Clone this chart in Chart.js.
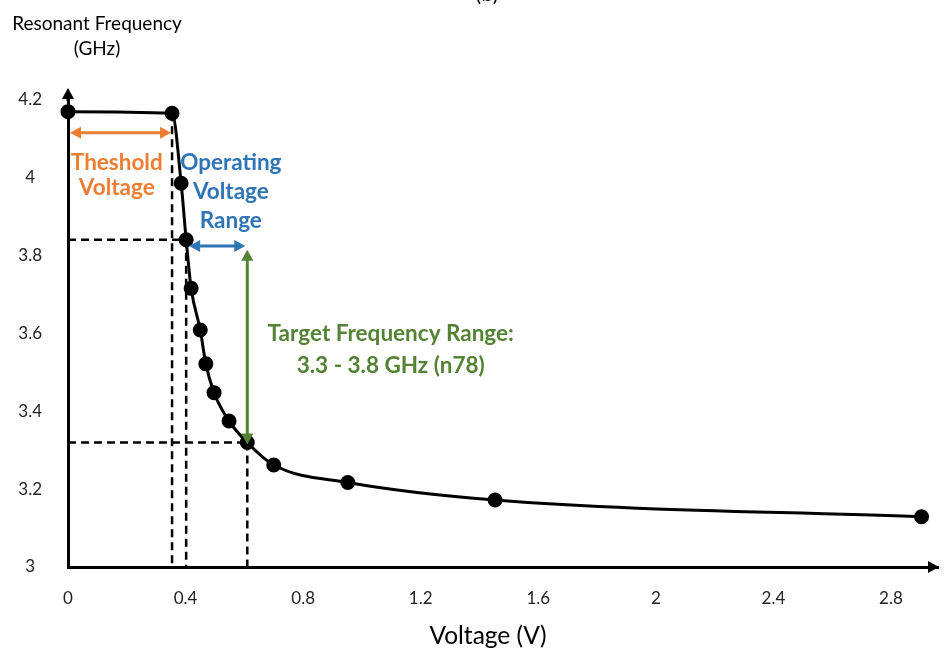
<!DOCTYPE html>
<html>
<head>
<meta charset="utf-8">
<script src="https://cdn.jsdelivr.net/npm/chart.js@4.4.0/dist/chart.umd.min.js"></script>
<style>
  html, body { margin: 0; padding: 0; background: #fff; }
  #wrap { width: 947px; height: 650px; position: relative; }
</style>
</head>
<body>
<div id="wrap"><canvas id="chart"></canvas></div>
<script>
// values
const voltage   = [0, 0.354, 0.385, 0.402, 0.419, 0.450, 0.469, 0.497, 0.548, 0.610, 0.700, 0.952, 1.453, 2.904];
const frequency = [4.170, 4.166, 3.986, 3.841, 3.716, 3.609, 3.522, 3.448, 3.375, 3.320, 3.262, 3.217, 3.172, 3.129];
const xTicks = [0, 0.4, 0.8, 1.2, 1.6, 2, 2.4, 2.8];
const yTicks = [3, 3.2, 3.4, 3.6, 3.8, 4, 4.2];

// indices of the points the annotations hang off
const THRESH = 1, OP_START = 3, OP_END = 9;

const FONT = 'Lato, "Open Sans", sans-serif';
const ORANGE = '#ED7D31', BLUE = '#2E75B6', GREEN = '#548235';

function arrowHead(ctx, x, y, angle, size, color) {
  ctx.save();
  ctx.translate(x, y);
  ctx.rotate(angle);
  ctx.fillStyle = color;
  ctx.beginPath();
  ctx.moveTo(0, 0);
  ctx.lineTo(-size, -size * 0.55);
  ctx.lineTo(-size, size * 0.55);
  ctx.closePath();
  ctx.fill();
  ctx.restore();
}

function doubleArrow(ctx, x1, y1, x2, y2, color) {
  const a = Math.atan2(y2 - y1, x2 - x1);
  const s = 11;
  ctx.save();
  ctx.strokeStyle = color;
  ctx.lineWidth = 3;
  ctx.beginPath();
  ctx.moveTo(x1 + Math.cos(a) * s * 0.8, y1 + Math.sin(a) * s * 0.8);
  ctx.lineTo(x2 - Math.cos(a) * s * 0.8, y2 - Math.sin(a) * s * 0.8);
  ctx.stroke();
  ctx.restore();
  arrowHead(ctx, x2, y2, a, s, color);
  arrowHead(ctx, x1, y1, a + Math.PI, s, color);
}

function label(ctx, lines, x, y0, step, color, font) {
  ctx.save();
  ctx.fillStyle = color;
  ctx.font = font;
  ctx.textAlign = 'center';
  ctx.textBaseline = 'middle';
  lines.forEach((t, i) => ctx.fillText(t, x, y0 + i * step));
  ctx.restore();
}

const guides = {
  id: 'guides',
  beforeDatasetsDraw(chart) {
    const { ctx, scales: { x, y } } = chart;
    ctx.save();
    ctx.strokeStyle = '#000';
    ctx.lineWidth = 2.5;
    ctx.setLineDash([8, 5]);
    const bottom = y.getPixelForValue(3);
    [THRESH, OP_START, OP_END].forEach(i => {
      ctx.beginPath();
      ctx.moveTo(x.getPixelForValue(voltage[i]), y.getPixelForValue(frequency[i]));
      ctx.lineTo(x.getPixelForValue(voltage[i]), bottom);
      ctx.stroke();
    });
    [OP_START, OP_END].forEach(i => {
      ctx.beginPath();
      ctx.moveTo(x.getPixelForValue(0), y.getPixelForValue(frequency[i]));
      ctx.lineTo(x.getPixelForValue(voltage[i]), y.getPixelForValue(frequency[i]));
      ctx.stroke();
    });
    ctx.restore();
  },
  afterDatasetsDraw(chart) {
    const { ctx, scales: { x, y }, chartArea } = chart;
    const px = v => x.getPixelForValue(v);
    const py = v => y.getPixelForValue(v);

    // axis arrows
    ctx.save();
    ctx.strokeStyle = '#000';
    ctx.lineWidth = 3;
    ctx.beginPath();
    ctx.moveTo(chartArea.left, chartArea.top + 1);
    ctx.lineTo(chartArea.left, chartArea.top - 4);
    ctx.stroke();
    ctx.restore();
    arrowHead(ctx, chartArea.left, chartArea.top - 12, -Math.PI / 2, 11, '#000');
    arrowHead(ctx, chartArea.right + 1, chartArea.bottom, 0, 11, '#000');

    // threshold voltage
    doubleArrow(ctx, px(0) + 2, py(4.116), px(voltage[THRESH]) - 1, py(4.116), ORANGE);
    label(ctx, ['Theshold', 'Voltage'], px(0.166), py(4.039), 25, ORANGE, 'bold 22.5px ' + FONT);

    // operating voltage range
    doubleArrow(ctx, px(voltage[OP_START]) + 3, py(3.825), px(voltage[OP_END]) - 2, py(3.825), BLUE);
    label(ctx, ['Operating', 'Voltage', 'Range'], px(0.554), py(4.039), 29, BLUE, 'bold 22.5px ' + FONT);

    // target frequency range
    doubleArrow(ctx, px(voltage[OP_END]), py(3.815), px(voltage[OP_END]), py(frequency[OP_END]) + 2, GREEN);
    label(ctx, ['Target Frequency Range:', '3.3 - 3.8 GHz (n78)'], px(1.098), py(3.599), 32, GREEN, 'bold 22.5px ' + FONT);

    // axis titles
    label(ctx, ['Resonant Frequency', '(GHz)'], 97, 24, 25, '#000', '19px ' + FONT);
    label(ctx, ['Voltage (V)'], 488, 636, 0, '#000', '24.5px ' + FONT);
    label(ctx, ['(b)'], 487, -6, 0, '#000', '22px ' + FONT);
  }
};

new Chart(document.getElementById('chart'), {
  type: 'scatter',
  data: {
    datasets: [{
      data: voltage.map((v, i) => ({ x: v, y: frequency[i] })),
      showLine: true,
      borderColor: '#000',
      backgroundColor: '#000',
      borderWidth: 3,
      cubicInterpolationMode: 'monotone',
      pointRadius: 6,
      pointHoverRadius: 6,
      clip: false
    }]
  },
  options: {
    responsive: true,
    maintainAspectRatio: false,
    animation: false,
    layout: { padding: { top: 100, right: 2, left: 0, bottom: 0 } },
    plugins: { legend: { display: false }, tooltip: { enabled: false } },
    scales: {
      x: {
        type: 'linear',
        min: 0,
        max: 2.96,
        afterBuildTicks: s => { s.ticks = xTicks.map(v => ({ value: v })); },
        afterFit: s => { s.height = 83; },
        grid: { display: false, drawTicks: false },
        border: { display: true, color: '#000', width: 3 },
        ticks: { color: '#222', font: { family: FONT, size: 17 }, padding: 21, maxRotation: 0,
                 callback: v => String(v) }
      },
      y: {
        type: 'linear',
        min: 3,
        max: 4.2,
        afterBuildTicks: s => { s.ticks = yTicks.map(v => ({ value: v })); },
        afterFit: s => { s.width = 68; },
        grid: { display: false, drawTicks: false },
        border: { display: true, color: '#000', width: 3 },
        ticks: { color: '#222', font: { family: FONT, size: 17 }, padding: 26, crossAlign: 'center',
                 callback: v => String(v) }
      }
    }
  },
  plugins: [guides]
});
</script>
</body>
</html>
